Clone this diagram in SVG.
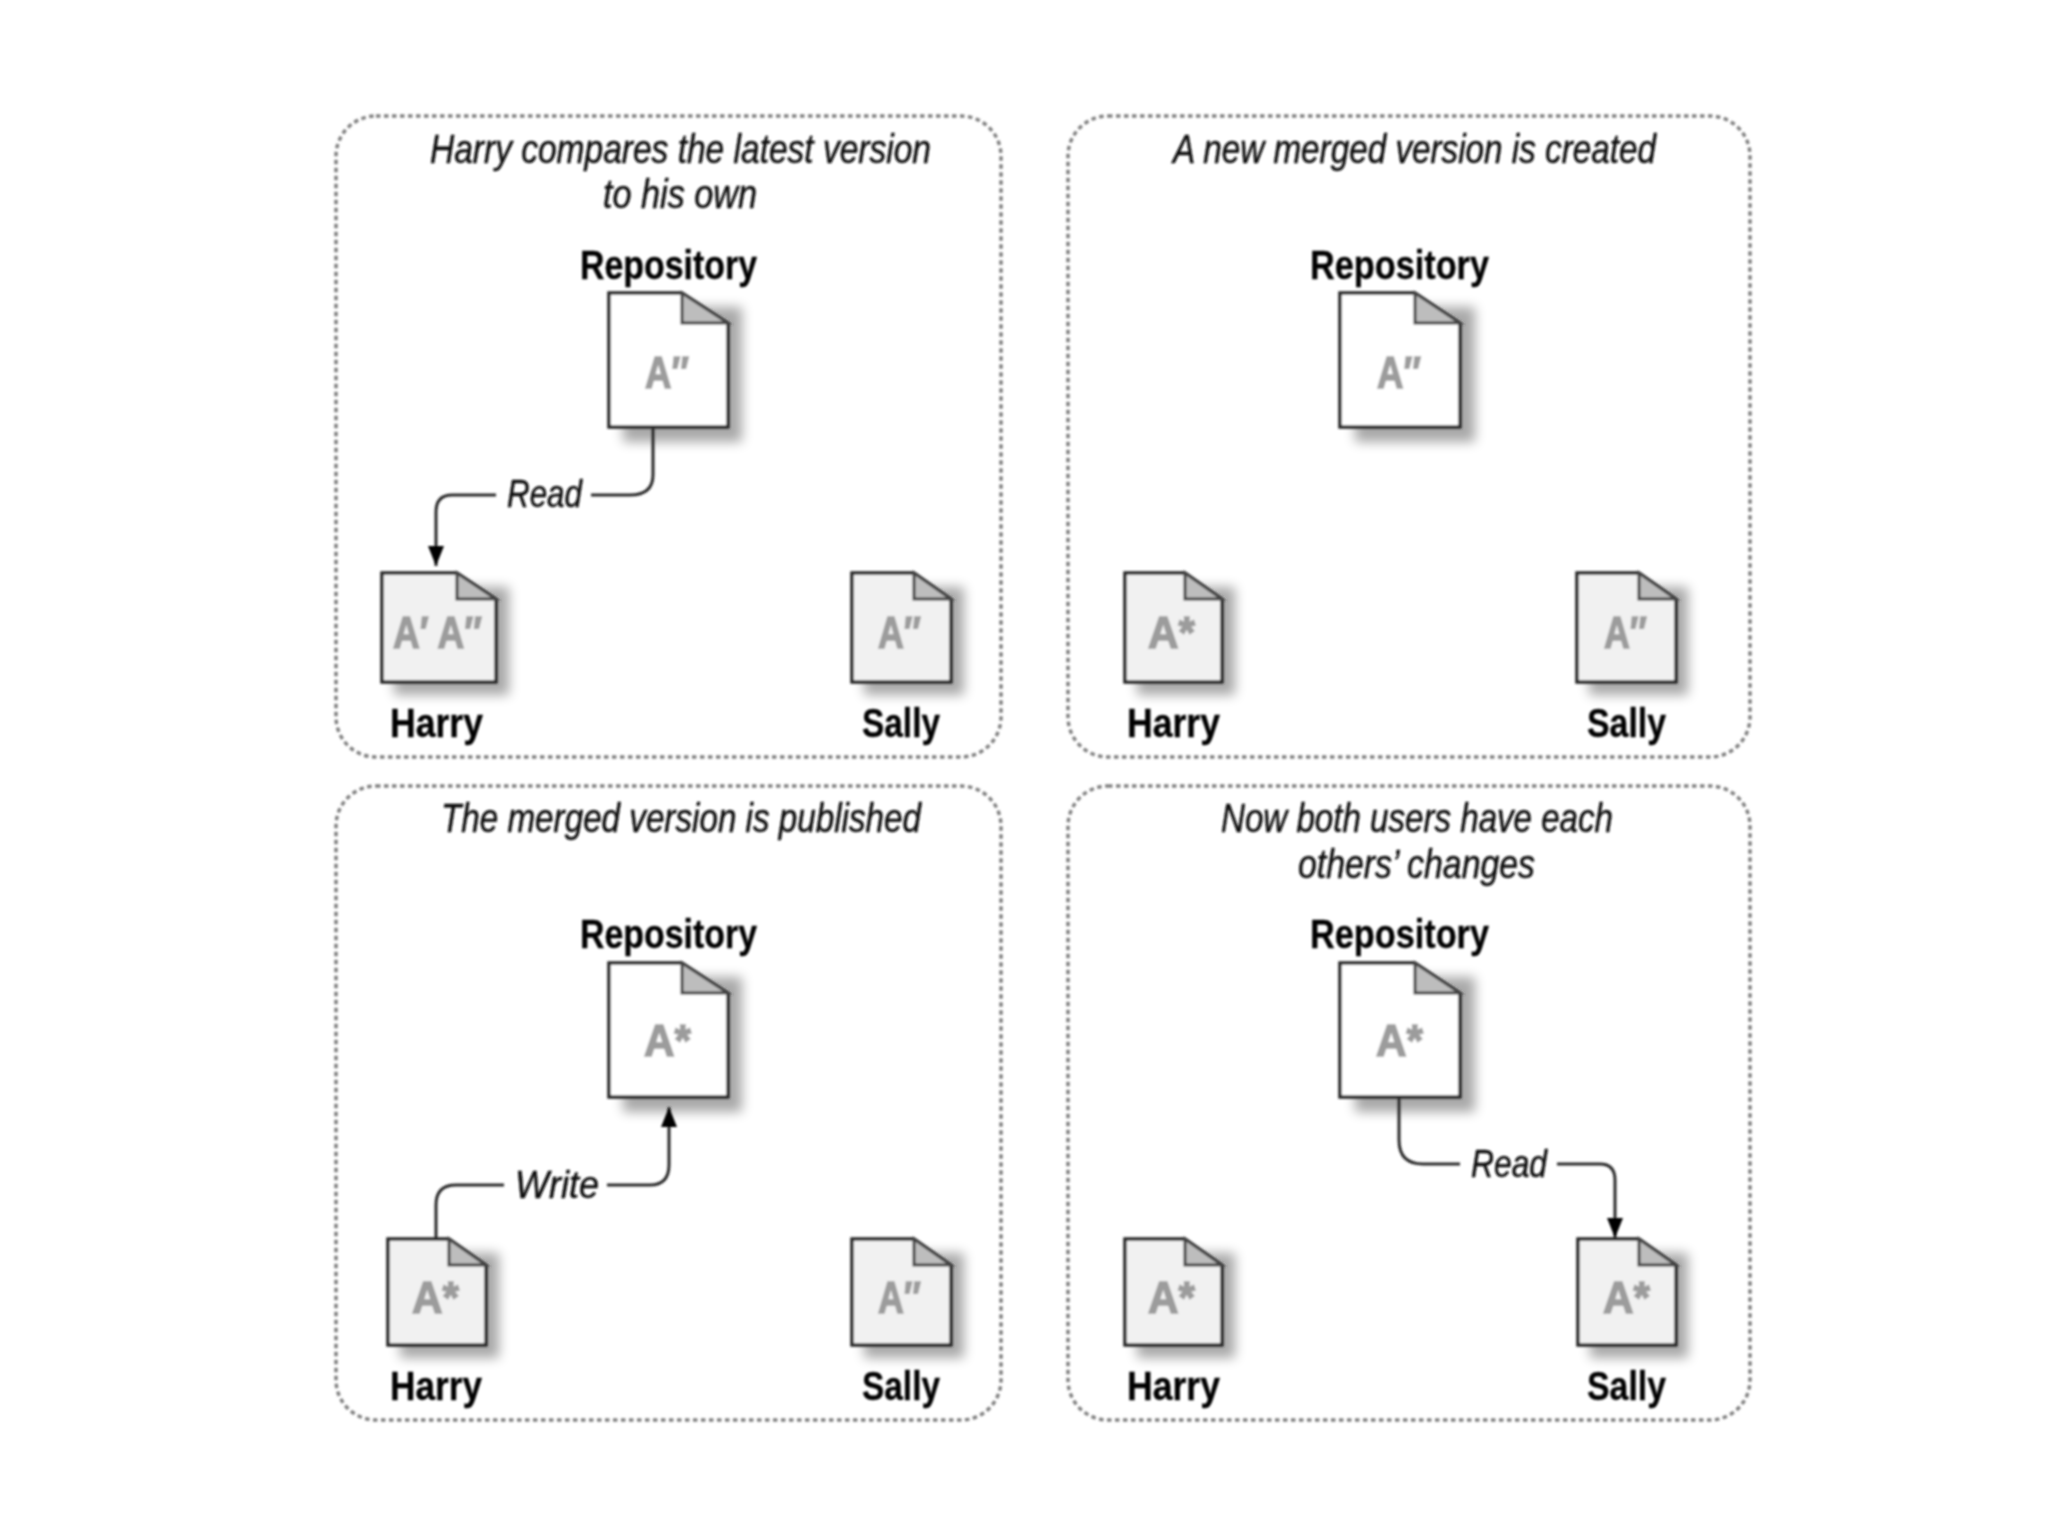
<svg xmlns="http://www.w3.org/2000/svg" width="2048" height="1535" viewBox="0 0 2048 1535">
<style>
.panel{fill:none;stroke:#808080;stroke-width:3.5;stroke-dasharray:4.5 3.5}
.doc{stroke:#2a2a2a;stroke-width:3.5;stroke-linejoin:miter;transform:translate(1px,1px)}
.repo{fill:#fff}.user{fill:#f1f1f1}
.fold{fill:#bdbdbd;stroke:#444;stroke-width:3;transform:translate(1px,1px)}
.shadow{fill:#000;opacity:.34;filter:url(#sh);transform:translate(3px,3px)}
.title{font:italic 40px "Liberation Sans Narrow","Liberation Sans",sans-serif;fill:#111;stroke:#111;stroke-width:.5}
.name{font:bold 40px "Liberation Sans Narrow","Liberation Sans",sans-serif;fill:#000;stroke:#000;stroke-width:.3}
.mark{font:bold 44px "Liberation Sans Narrow","Liberation Sans",sans-serif;fill:#9c9c9c;stroke:#9c9c9c;stroke-width:1.6;transform:translate(-1px,-1px)}
.edge{font:italic 38px "Liberation Sans Narrow","Liberation Sans",sans-serif;fill:#111;stroke:#111;stroke-width:.5}
.wire{fill:none;stroke:#2a2a2a;stroke-width:3}
</style>
<defs>
<filter id="sh" x="-30%" y="-30%" width="160%" height="160%"><feGaussianBlur stdDeviation="6"/></filter>
<filter id="soft" filterUnits="userSpaceOnUse" x="0" y="0" width="2048" height="1535"><feGaussianBlur stdDeviation="1.2"/></filter>
<marker id="arrow" markerUnits="userSpaceOnUse" markerWidth="22" markerHeight="22" refX="20" refY="9" orient="auto"><path d="M0 1L20 9L0 17Z" fill="#000"/></marker>
</defs>
<rect width="2048" height="1535" fill="#fff"/>
<g filter="url(#soft)">
<g id="frames">
<rect class="panel" x="336" y="116" width="665" height="641" rx="40"/>
<rect class="panel" x="1068" y="116" width="682" height="641" rx="40"/>
<rect class="panel" x="336" y="786" width="665" height="634" rx="40"/>
<rect class="panel" x="1068" y="786" width="682" height="634" rx="40"/>
</g>
<g id="titles">
<text class="title" x="430" y="163" textLength="501" lengthAdjust="spacingAndGlyphs">Harry compares the latest version</text>
<text class="title" x="603" y="208" textLength="154" lengthAdjust="spacingAndGlyphs">to his own</text>
<text class="title" x="1173" y="163" textLength="483" lengthAdjust="spacingAndGlyphs">A new merged version is created</text>
<text class="title" x="441" y="832" textLength="480" lengthAdjust="spacingAndGlyphs">The merged version is published</text>
<text class="title" x="1221" y="832" textLength="392" lengthAdjust="spacingAndGlyphs">Now both users have each</text>
<text class="title" x="1298" y="878" textLength="237" lengthAdjust="spacingAndGlyphs">others’ changes</text>
</g>
<g id="p1-repo"><path class="shadow" d="M620 304H739V439H620Z"/><path class="doc repo" d="M608 292H681L727 322V426H608Z"/><path class="fold" d="M681 292L727 322H681Z"/><text class="name" x="580" y="279" textLength="177" lengthAdjust="spacingAndGlyphs">Repository</text><text class="mark" x="646" y="389" textLength="44" lengthAdjust="spacingAndGlyphs">A″</text></g>
<g id="p1-harry"><path class="shadow" d="M391 584H506V692H391Z"/><path class="doc user" d="M381 572H456L495 598V681H381Z"/><path class="fold" d="M456 572L495 598H456Z"/><text class="name" x="390" y="737" textLength="93" lengthAdjust="spacingAndGlyphs">Harry</text><text class="mark" x="394" y="649" textLength="89" lengthAdjust="spacingAndGlyphs">A′ A″</text></g>
<g id="p1-sally"><path class="shadow" d="M861 584H961V692H861Z"/><path class="doc user" d="M851 572H913L950 598V681H851Z"/><path class="fold" d="M913 572L950 598H913Z"/><text class="name" x="862" y="737" textLength="78" lengthAdjust="spacingAndGlyphs">Sally</text><text class="mark" x="879" y="649" textLength="43" lengthAdjust="spacingAndGlyphs">A″</text></g>
<g id="p2-repo"><path class="shadow" d="M1352 304H1472V439H1352Z"/><path class="doc repo" d="M1339 292H1414L1459 322V426H1339Z"/><path class="fold" d="M1414 292L1459 322H1414Z"/><text class="name" x="1310" y="279" textLength="179" lengthAdjust="spacingAndGlyphs">Repository</text><text class="mark" x="1378" y="389" textLength="44" lengthAdjust="spacingAndGlyphs">A″</text></g>
<g id="p2-harry"><path class="shadow" d="M1134 584H1232V692H1134Z"/><path class="doc user" d="M1124 572H1184L1221 598V681H1124Z"/><path class="fold" d="M1184 572L1221 598H1184Z"/><text class="name" x="1127" y="737" textLength="93" lengthAdjust="spacingAndGlyphs">Harry</text><text class="mark" x="1149" y="649" textLength="47" lengthAdjust="spacingAndGlyphs">A*</text></g>
<g id="p2-sally"><path class="shadow" d="M1586 584H1685V692H1586Z"/><path class="doc user" d="M1576 572H1638L1675 598V681H1576Z"/><path class="fold" d="M1638 572L1675 598H1638Z"/><text class="name" x="1587" y="737" textLength="79" lengthAdjust="spacingAndGlyphs">Sally</text><text class="mark" x="1605" y="649" textLength="43" lengthAdjust="spacingAndGlyphs">A″</text></g>
<g id="p3-repo"><path class="shadow" d="M620 974H739V1109H620Z"/><path class="doc repo" d="M608 962H681L727 992V1096H608Z"/><path class="fold" d="M681 962L727 992H681Z"/><text class="name" x="580" y="948" textLength="177" lengthAdjust="spacingAndGlyphs">Repository</text><text class="mark" x="645" y="1057" textLength="47" lengthAdjust="spacingAndGlyphs">A*</text></g>
<g id="p3-harry"><path class="shadow" d="M397 1250H496V1355H397Z"/><path class="doc user" d="M387 1238H448L485 1264V1344H387Z"/><path class="fold" d="M448 1238L485 1264H448Z"/><text class="name" x="390" y="1400" textLength="92" lengthAdjust="spacingAndGlyphs">Harry</text><text class="mark" x="413" y="1314" textLength="47" lengthAdjust="spacingAndGlyphs">A*</text></g>
<g id="p3-sally"><path class="shadow" d="M861 1250H961V1355H861Z"/><path class="doc user" d="M851 1238H913L950 1264V1344H851Z"/><path class="fold" d="M913 1238L950 1264H913Z"/><text class="name" x="862" y="1400" textLength="78" lengthAdjust="spacingAndGlyphs">Sally</text><text class="mark" x="879" y="1314" textLength="43" lengthAdjust="spacingAndGlyphs">A″</text></g>
<g id="p4-repo"><path class="shadow" d="M1352 974H1472V1109H1352Z"/><path class="doc repo" d="M1339 962H1414L1459 992V1096H1339Z"/><path class="fold" d="M1414 962L1459 992H1414Z"/><text class="name" x="1310" y="948" textLength="179" lengthAdjust="spacingAndGlyphs">Repository</text><text class="mark" x="1377" y="1057" textLength="47" lengthAdjust="spacingAndGlyphs">A*</text></g>
<g id="p4-harry"><path class="shadow" d="M1134 1250H1232V1355H1134Z"/><path class="doc user" d="M1124 1238H1184L1221 1264V1344H1124Z"/><path class="fold" d="M1184 1238L1221 1264H1184Z"/><text class="name" x="1127" y="1400" textLength="93" lengthAdjust="spacingAndGlyphs">Harry</text><text class="mark" x="1149" y="1314" textLength="47" lengthAdjust="spacingAndGlyphs">A*</text></g>
<g id="p4-sally"><path class="shadow" d="M1587 1250H1685V1355H1587Z"/><path class="doc user" d="M1577 1238H1638L1675 1264V1344H1577Z"/><path class="fold" d="M1638 1238L1675 1264H1638Z"/><text class="name" x="1587" y="1400" textLength="79" lengthAdjust="spacingAndGlyphs">Sally</text><text class="mark" x="1604" y="1314" textLength="47" lengthAdjust="spacingAndGlyphs">A*</text></g>
<g id="connectors">
<path class="wire" d="M653 427V475Q653 495 630 495H591"/><path class="wire" marker-end="url(#arrow)" d="M496 495H452Q436 495 436 512V566"/><text class="edge" x="507" y="507" textLength="75" lengthAdjust="spacingAndGlyphs">Read</text>
<path class="wire" d="M436 1238V1205Q436 1185 456 1185H504"/><path class="wire" marker-end="url(#arrow)" d="M607 1185H650Q669 1185 669 1165V1107"/><text class="edge" x="515" y="1198" textLength="84" lengthAdjust="spacingAndGlyphs">Write</text>
<path class="wire" d="M1399 1097V1140Q1399 1164 1423 1164H1460"/><path class="wire" marker-end="url(#arrow)" d="M1557 1164H1600Q1615 1164 1615 1180V1238"/><text class="edge" x="1471" y="1177" textLength="76" lengthAdjust="spacingAndGlyphs">Read</text>
</g>
</g>
</svg>
